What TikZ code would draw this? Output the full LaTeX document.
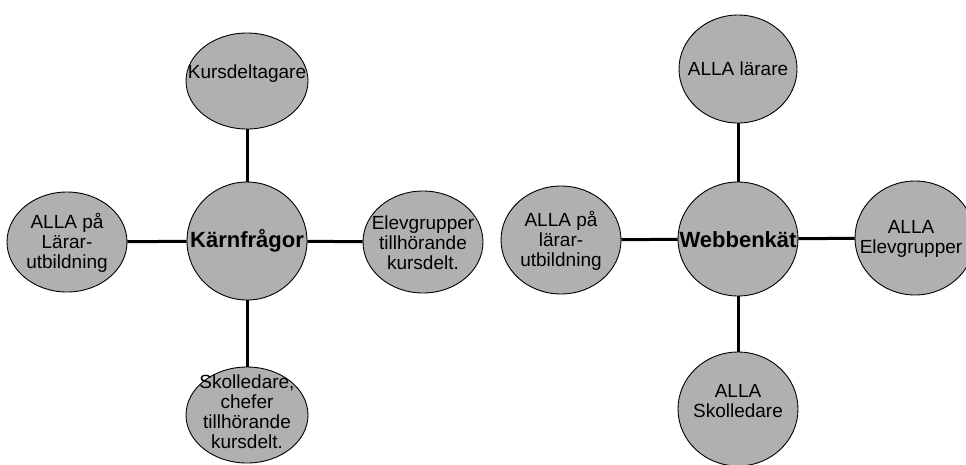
\documentclass[tikz,border=0pt]{standalone}
\usepackage{fontspec}
\setmainfont{Liberation Sans}
\usetikzlibrary{shapes.geometric}
\definecolor{halftone}{RGB}{176,176,176}
\begin{document}
\begin{tikzpicture}[x=1pt,y=-1pt,
  bubble/.style={ellipse, draw=black, line width=0.9pt, fill=halftone, inner sep=0pt},
  lbl/.style={font=\fontsize{19}{20}\selectfont, align=center, text=black, inner sep=0pt},
  hub/.style={font=\fontsize{22}{22}\selectfont\bfseries, text=black, inner sep=0pt},
  link/.style={line width=3pt}]
\useasboundingbox (0,0) rectangle (966,464);
\clip (0,0) rectangle (966,464);
% left diagram
\node[bubble, minimum width=122pt, minimum height=96pt,
  label={[lbl,yshift=7pt]center:Kursdeltagare}] (T1) at (247,81) {};
\node[bubble, minimum width=120pt, minimum height=118pt,
  label={[hub]center:Kärnfrågor}] (C1) at (247,241) {};
\node[bubble, minimum width=120pt, minimum height=100pt,
  label={[lbl,yshift=-1pt]center:ALLA på\\Lärar-\\utbildning}] (L1) at (67,242) {};
\node[bubble, minimum width=120pt, minimum height=102pt,
  label={[lbl,yshift=-1pt]center:Elevgrupper\\tillhörande\\kursdelt.}] (R1) at (423,242) {};
\node[bubble, minimum width=122pt, minimum height=96pt,
  label={[lbl,yshift=3pt]center:Skolledare,\\chefer\\tillhörande\\kursdelt.}] (B1) at (247,415) {};
% right diagram
\node[bubble, minimum width=118pt, minimum height=108pt,
  label={[lbl]center:ALLA lärare}] (T2) at (738,69) {};
\node[bubble, minimum width=120pt, minimum height=114pt,
  label={[hub,yshift=-1pt]center:Webbenkät}] (C2) at (738,239) {};
\node[bubble, minimum width=120pt, minimum height=108pt,
  label={[lbl,yshift=-1pt]center:ALLA på\\lärar-\\utbildning}] (L2) at (561,240) {};
\node[bubble, minimum width=120pt, minimum height=114pt,
  label={[lbl,xshift=-4pt,yshift=-1pt]center:ALLA\\Elevgrupper}] (R2) at (915,238) {};
\node[bubble, minimum width=120pt, minimum height=114pt,
  label={[lbl,yshift=8pt]center:ALLA\\Skolledare}] (B2) at (738,409) {};
% connectors
\draw[link] (T1) -- (C1);
\draw[link] (L1) -- (C1);
\draw[link] (C1) -- (R1);
\draw[link] (C1) -- (B1);
\draw[link] (T2) -- (C2);
\draw[link] (L2) -- (C2);
\draw[link] (C2) -- (R2);
\draw[link] (C2) -- (B2);
\end{tikzpicture}
\end{document}
